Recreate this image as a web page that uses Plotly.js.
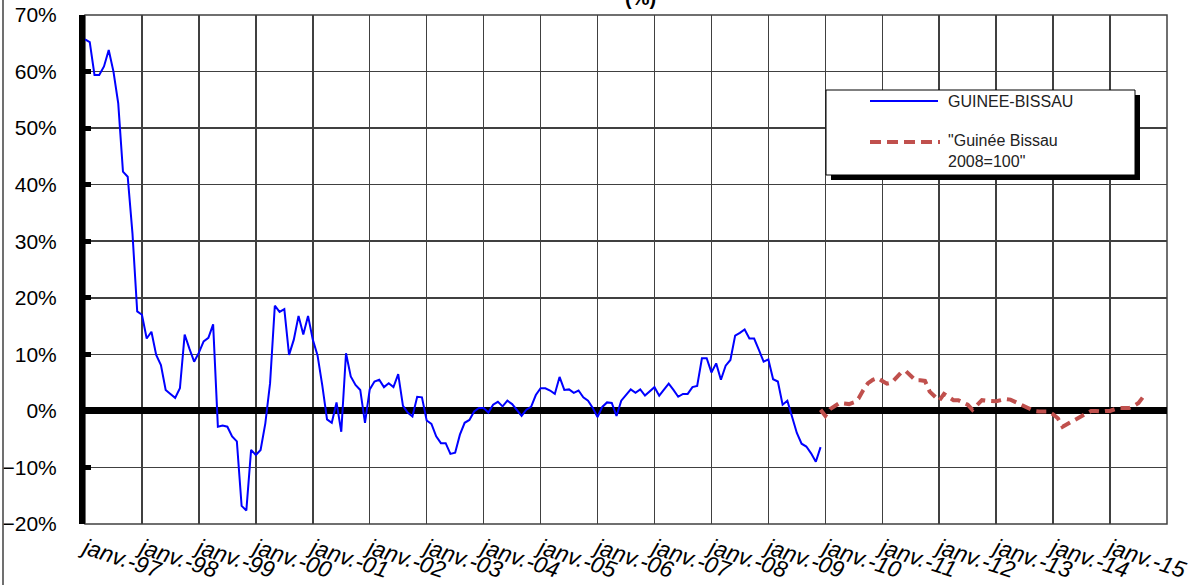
<!DOCTYPE html>
<html>
<head>
<meta charset="utf-8">
<script src="https://cdn.plot.ly/plotly-3.0.1.min.js"></script>
<style>html,body{margin:0;padding:0;background:#fff;}#chart{width:1197px;height:585px;}</style>
</head>
<body>
<div id="chart"></div>
<script>
// Month index 0 = janv. 1997
const tickLabels = ['janv.-97','janv.-98','janv.-99','janv.-00','janv.-01','janv.-02','janv.-03','janv.-04','janv.-05','janv.-06','janv.-07','janv.-08','janv.-09','janv.-10','janv.-11','janv.-12','janv.-13','janv.-14','janv.-15'];
const tickMonths = [0,12,24,36,48,60,72,84,96,108,120,132,144,156,168,180,192,204,216];

const seriesNames = ['GUINEE-BISSAU', '"Guinée Bissau<br>2008=100"'];

const blueStart = 0;   // janv. 1997
const blueValues = [
  65.7,65.2,59.4,59.4,60.9,63.8,60.0,54.4,42.3,41.4,31.4,17.6,
  17.0,12.8,14.0,9.9,8.1,3.7,3.0,2.3,4.0,13.5,11.0,8.7,
  10.3,12.3,12.9,15.3,-2.8,-2.6,-2.8,-4.5,-5.4,-16.8,-17.6,-6.9,
  -7.8,-6.9,-2.2,4.9,18.6,17.5,18.0,9.9,12.6,16.8,13.5,16.8,
  12.6,9.8,4.5,-1.5,-2.1,1.5,-3.7,10.2,6.1,4.6,3.7,-2.1,
  3.8,5.2,5.5,4.2,4.9,4.2,6.5,0.9,-0.3,-1.0,2.5,2.4,
  -1.7,-2.3,-4.5,-5.7,-5.7,-7.6,-7.4,-4.2,-2.1,-1.6,-0.1,0.5,
  0.5,-0.3,1.1,1.6,0.8,1.8,1.2,0.2,-0.9,0.2,0.7,2.8,
  4.0,4.0,3.6,3.0,6.0,3.7,3.8,3.2,3.6,2.4,1.8,0.5,
  -1.1,0.7,1.5,1.4,-0.9,1.8,2.8,3.8,3.2,3.8,2.7,3.5,
  4.2,2.7,3.8,4.8,3.7,2.5,3.0,3.0,4.2,4.4,9.3,9.3,
  6.8,8.4,5.5,8.0,9.0,13.3,13.8,14.4,12.8,12.8,10.8,8.7,
  9.1,5.6,5.2,1.1,1.8,-1.1,-3.9,-5.8,-6.3,-7.5,-9.0,-6.4
];

const redStart = 155;  // déc. 2009
const redValues = [
  0.2,
  -0.9,0.3,0.9,1.4,1.3,1.2,1.5,2.2,3.7,4.9,5.5,5.8,
  5.3,4.8,5.0,5.8,6.8,7.0,6.3,5.4,5.4,5.3,3.4,2.5,
  1.8,3.0,2.4,1.9,1.9,1.5,1.1,0.2,1.1,1.9,1.8,1.7,
  1.7,1.9,2.1,2.0,1.6,1.2,0.8,0.5,0.0,-0.1,-0.1,-0.1,
  -0.6,-1.3,-2.8,-2.3,-1.9,-1.4,-1.0,-0.5,0.0,0.0,-0.1,0.0,
  0.0,0.3,0.5,0.5,0.5,0.9,1.4,2.5
];

const blueX = blueValues.map((_, i) => blueStart + i);
const redX = redValues.map((_, i) => redStart + i);

const FONT = '"Liberation Sans", Arial, sans-serif';

// pixel helpers for decoration (plot area: x 85..1167, y 15..524)
const L = 85, R = 1167, T = 15, B = 524;
const px = v => (v - L) / (R - L);
const py = v => (B - v) / (B - T);

const traces = [
  { x: blueX, y: blueValues, name: seriesNames[0], type: 'scatter', mode: 'lines',
    line: { color: '#0000FF', width: 2 }, hoverinfo: 'skip' },
  { x: redX, y: redValues, name: seriesNames[1], type: 'scatter', mode: 'lines',
    line: { color: '#C0504D', width: 4, dash: '10px,6px' }, hoverinfo: 'skip' }
];

const shapes = [
  { type: 'line', xref: 'paper', yref: 'paper', x0: px(3), x1: px(3), y0: py(-20), y1: py(600), line: { color: '#404040', width: 1.5 } },
  { type: 'rect', xref: 'paper', yref: 'paper', x0: 0, x1: 1, y0: 0, y1: 1, line: { color: '#404040', width: 1.5 }, layer: 'below' },
  { type: 'rect', xref: 'paper', yref: 'paper', x0: px(831), x1: px(1140), y0: py(180), y1: py(95), fillcolor: '#000', line: { width: 0 } },
  { type: 'rect', xref: 'paper', yref: 'paper', x0: px(826), x1: px(1135), y0: py(175), y1: py(90), fillcolor: '#fff', line: { color: '#000', width: 1 } },
  { type: 'line', xref: 'paper', yref: 'paper', x0: px(870), x1: px(938), y0: py(101), y1: py(101), line: { color: '#0000FF', width: 2 } },
  { type: 'line', xref: 'paper', yref: 'paper', x0: px(870), x1: px(940), y0: py(142), y1: py(142), line: { color: '#C0504D', width: 4, dash: '11px,6px' } }
];

const annotations = [
  { text: '<b>(%)</b>', xref: 'paper', yref: 'paper', x: px(640), y: py(11), xanchor: 'center', yanchor: 'bottom', showarrow: false, font: { family: FONT, size: 20, color: '#000' } },
  { text: seriesNames[0], xref: 'paper', yref: 'paper', x: px(946), y: py(101), xanchor: 'left', yanchor: 'middle', showarrow: false, font: { family: FONT, size: 16, color: '#222' } },
  { text: seriesNames[1], xref: 'paper', yref: 'paper', x: px(946), y: py(151), xanchor: 'left', yanchor: 'middle', align: 'left', showarrow: false, font: { family: FONT, size: 16, color: '#222' } }
];

const layout = {
  width: 1197, height: 585,
  margin: { l: L, r: 1197 - R, t: T, b: 585 - B, pad: 0 },
  paper_bgcolor: '#fff', plot_bgcolor: '#fff',
  showlegend: false,
  xaxis: {
    range: [0, 228], tickmode: 'array', tickvals: tickMonths, ticktext: tickLabels,
    tickangle: 18, ticks: '', ticklabelstandoff: 6,
    tickfont: { family: FONT, size: 23, color: '#000', style: 'italic' },
    showgrid: true, gridcolor: '#404040', gridwidth: 1.5,
    zeroline: false, showline: false, fixedrange: true
  },
  yaxis: {
    range: [-20, 70], tickmode: 'linear', tick0: -20, dtick: 10, ticksuffix: '%',
    tickfont: { family: FONT, size: 21, color: '#000' },
    ticks: 'inside', ticklen: 6, tickwidth: 5, tickcolor: '#000', ticklabelstandoff: 18,
    showgrid: true, gridcolor: '#404040', gridwidth: 1.5,
    zeroline: true, zerolinecolor: '#000', zerolinewidth: 7,
    showline: true, linecolor: '#000', linewidth: 6, fixedrange: true
  },
  shapes: shapes,
  annotations: annotations
};

Plotly.newPlot('chart', traces, layout, { displayModeBar: false, staticPlot: true });
</script>
</body>
</html>
